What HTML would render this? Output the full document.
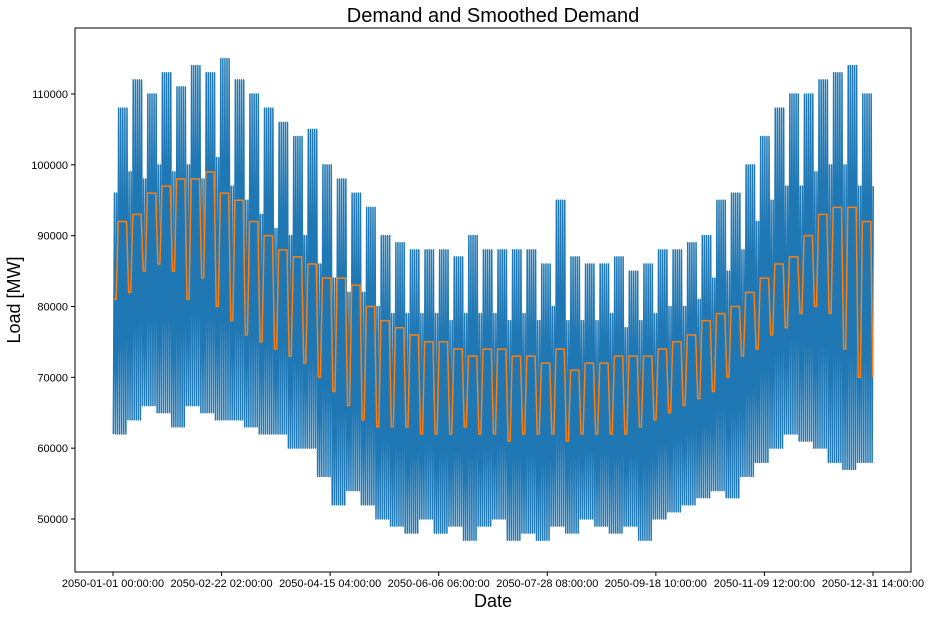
<!DOCTYPE html>
<html><head><meta charset="utf-8"><style>
html,body{margin:0;padding:0;background:#fff;}
svg{display:block;font-family:"Liberation Sans","DejaVu Sans",sans-serif;}
</style></head><body>
<svg id="chart" width="932" height="618" viewBox="0 0 932 618" xmlns="http://www.w3.org/2000/svg">
<rect width="932" height="618" fill="#fff"/>
<text x="493" y="22" font-size="20" text-anchor="middle">Demand and Smoothed Demand</text>
<text x="493" y="607" font-size="18" text-anchor="middle">Date</text>
<text transform="translate(20,300) rotate(-90)" font-size="18" text-anchor="middle">Load [MW]</text>
<g id="plot"></g>
<rect x="75" y="28" width="836" height="544" fill="none" stroke="#000" stroke-width="1"/>
</svg>
<script>
const xTickLabels=["2050-01-01 00:00:00","2050-02-22 02:00:00","2050-04-15 04:00:00","2050-06-06 06:00:00","2050-07-28 08:00:00","2050-09-18 10:00:00","2050-11-09 12:00:00","2050-12-31 14:00:00"];
const yTicks=[50000,60000,70000,80000,90000,100000,110000];
const weekMax=[108,112,110,113,111,114,113,115,112,110,108,106,104,105,100,98,96,94,90,89,88,88,88,87,90,88,88,88,88,86,95,87,86,86,87,85,86,88,88,89,90,95,96,100,104,108,110,110,112,113,114,110];
const weekendMax=[96,99,98,100,99,100,98,101,97,95,93,91,90,90,86,84,82,82,80,79,79,79,79,78,79,79,79,78,79,78,80,78,78,78,79,77,78,79,80,80,81,84,85,88,92,95,97,97,99,100,100,97];
const weekMin=[62,64,66,65,63,66,65,64,64,63,62,62,60,60,56,52,54,52,50,49,48,50,48,49,47,49,50,47,48,47,49,48,50,49,48,49,47,50,51,52,53,54,53,56,58,60,62,61,60,58,57,58];
const smoothHigh=[92,93,96,97,98,98,99,96,95,92,90,88,87,86,84,84,83,80,78,77,76,75,75,74,73,74,74,73,73,72,74,71,72,72,73,73,73,74,75,76,78,79,80,82,84,86,87,90,93,94,94,92];
const smoothLow=[81,82,85,86,85,81,84,80,78,76,75,74,73,72,70,68,66,64,63,63,63,62,62,62,63,62,62,61,62,62,62,61,62,62,62,62,63,64,65,66,67,68,70,73,74,76,77,79,80,79,74,70];
const X0=113,PXH=760/8750;
function xs(h){return X0+h*PXH;}
function ys(v){return 519-(v-50000)*425/60000;}
const plot=document.getElementById('plot');
const NS="http://www.w3.org/2000/svg";
function mk(t,a){const e=document.createElementNS(NS,t);for(const k in a)e.setAttribute(k,a[k]);return e;}
// y ticks
yTicks.forEach(v=>{
  const l=mk('line',{x1:71,x2:75,y1:ys(v),y2:ys(v),stroke:'#000'});
  
  
  plot.appendChild(l);
  const t=mk('text',{x:68,y:ys(v)+4,'font-size':11,'text-anchor':'end'});
  t.textContent=v;
  
  
  plot.appendChild(t);
});
xTickLabels.forEach((s,i)=>{
  const x=xs(i*1250);
  const l=mk('line',{x1:x,x2:x,y1:572,y2:576,stroke:'#000'});
  
  
  plot.appendChild(l);
  const t=mk('text',{x:x,y:587,'font-size':11,'text-anchor':'middle'});
  t.textContent=s;
  
  
  plot.appendChild(t);
});
// demand series
let d1=[],d2=[];
for(let d=0;d<365;d++){
  const w=Math.min(51,Math.floor(d/7));
  const we=(d%7)<2;
  const mn=weekMin[w]*1000, mx=(we?weekendMax[w]:weekMax[w])*1000;
  d1.push((d1.length?'L':'M')+xs(d*24+4).toFixed(2)+','+ys(mn).toFixed(2));
  d1.push('L'+xs(d*24+17).toFixed(2)+','+ys(mx).toFixed(2));
  const sv=(we?smoothLow[w]:smoothHigh[w])*1000;
  d2.push((d2.length?'L':'M')+xs(d*24+12).toFixed(2)+','+ys(sv).toFixed(2));
}
const p1=mk('path',{d:d1.join(''),fill:'none',stroke:'#1f77b4','stroke-width':1.5,'stroke-linejoin':'round'});


plot.appendChild(p1);
const p2=mk('path',{d:d2.join(''),fill:'none',stroke:'#ff7f0e','stroke-width':1.5,'stroke-linejoin':'round'});


plot.appendChild(p2);
</script>
</body></html>
